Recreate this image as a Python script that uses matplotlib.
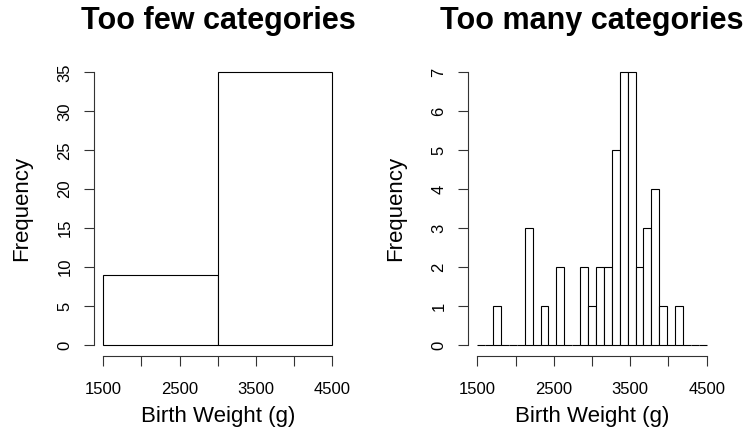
import numpy as np
import matplotlib
matplotlib.use("Agg")
import matplotlib.pyplot as plt

plt.rcParams['font.family'] = ['Liberation Sans', 'DejaVu Sans']

# ---- data ----
few_edges = [1500, 3000, 4500]
few_counts = [9, 35]

many_edges = list(np.linspace(1500, 4500, 30))  # 29 equal bins
many_counts = [0, 0, 1, 0, 0, 0, 3, 0, 1, 0, 2, 0, 0, 2, 1, 2, 2, 5, 7, 7,
               2, 3, 4, 1, 0, 1, 0, 0, 0]

x_ticks = [1500, 2000, 2500, 3000, 3500, 4000, 4500]
x_ticklabels = ["1500", "", "2500", "", "3500", "", "4500"]
few_yticks = [0, 5, 10, 15, 20, 25, 30, 35]
many_yticks = [0, 1, 2, 3, 4, 5, 6, 7]

titles = ["Too few categories", "Too many categories"]
xlabel = "Birth Weight (g)"
ylabel = "Frequency"

W, H = 751, 442
fig = plt.figure(figsize=(W / 100, H / 100), dpi=100)


def px_axes(x0, x1, y0, y1):
    return fig.add_axes([x0 / W, 1 - y1 / H, (x1 - x0) / W, (y1 - y0) / H])


def draw(ax, edges, counts, yticks, title, cx, ylab_x):
    edges = np.asarray(edges, dtype=float)
    counts = np.asarray(counts, dtype=float)
    ax.bar(edges[:-1], counts, width=np.diff(edges), align='edge',
           facecolor='white', edgecolor='black', linewidth=0.8)
    ymax = yticks[-1]
    ax.set_xlim(1500 - 0.04 * 3000, 4500 + 0.04 * 3000)
    ax.set_ylim(-0.04 * ymax, ymax * 1.04)
    for s in ['top', 'right']:
        ax.spines[s].set_visible(False)
    ax.spines['left'].set_bounds(0, ymax)
    ax.spines['bottom'].set_bounds(1500, 4500)
    for s in ['left', 'bottom']:
        ax.spines[s].set_linewidth(0.8)
        ax.spines[s].set_color('#333333')
    ax.set_xticks(x_ticks)
    ax.set_xticklabels(x_ticklabels)
    ax.set_yticks(yticks)
    ax.set_yticklabels([str(v) for v in yticks], rotation=90, va='center')
    ax.tick_params(axis='both', length=7, width=0.8, color='#333333',
                   labelsize=12, direction='out')
    ax.tick_params(axis='x', pad=11.5)
    ax.tick_params(axis='y', pad=8.5)
    fig.text(cx / W, 1 - 21 / H, title, ha='center', va='center',
             fontsize=22, fontweight='bold')
    fig.text(cx / W, 1 - 416.5 / H, xlabel, ha='center', va='center',
             fontsize=16)
    fig.text(ylab_x / W, 1 - 208 / H, ylabel, ha='center', va='center',
             fontsize=16, rotation=90)


ax1 = px_axes(94.1, 341.5, 61.4, 355.9)
draw(ax1, few_edges, few_counts, few_yticks, titles[0], 218, 22)

ax2 = px_axes(468.1, 715.9, 61.4, 355.9)
draw(ax2, many_edges, many_counts, many_yticks, titles[1], 592, 396)

fig.savefig("out.png", dpi=100)
